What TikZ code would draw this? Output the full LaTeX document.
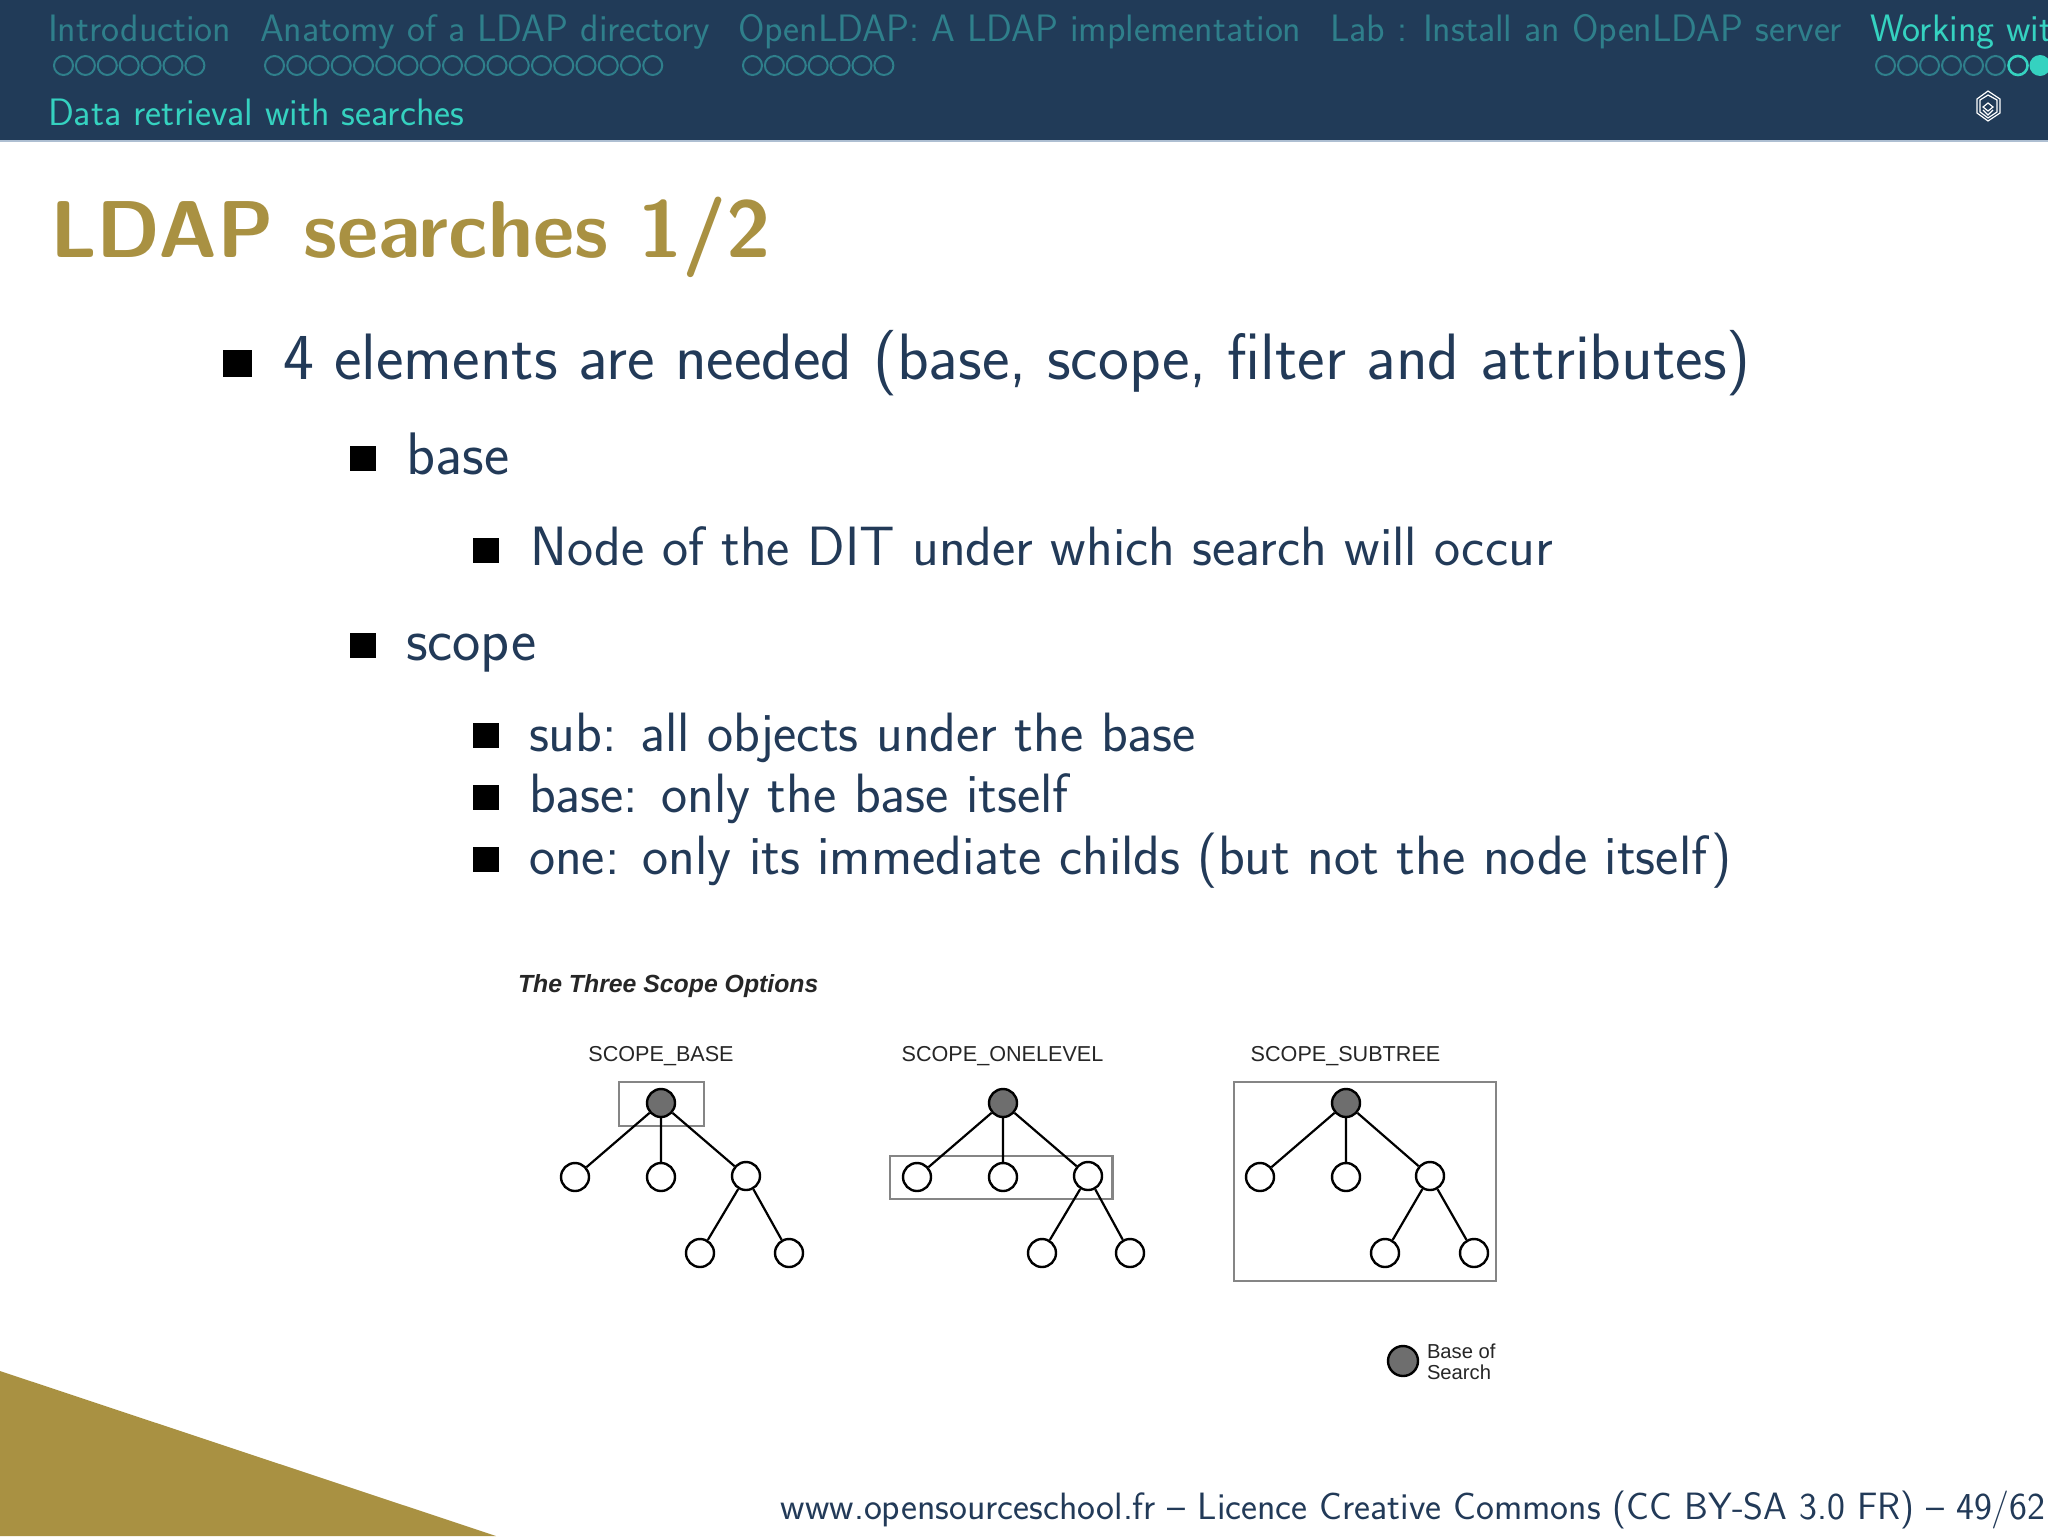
\documentclass[tikz,border=0pt]{standalone}
\usepackage{fontspec}
\newfontfamily\arialf{Liberation Sans}
\definecolor{barblue}{HTML}{213B58}
\definecolor{barline}{HTML}{AEBFD2}
\definecolor{tealhi}{HTML}{35D2C0}
\definecolor{tealdim}{HTML}{2F7F8B}
\definecolor{gold}{HTML}{A99142}
\definecolor{bodyblue}{HTML}{223A58}
\definecolor{scopegray}{HTML}{858585}
\definecolor{basegray}{HTML}{6E6E6E}
\newcommand{\fsz}[1]{\fontsize{#1}{#1}\selectfont}
\tikzset{
  x=0.5pt,y=-0.5pt,
  txt/.style={anchor=base west,inner sep=0pt,outer sep=0pt},
  nav/.style={txt,text=tealdim,font=\sffamily\fsz{19.1}},
  navhi/.style={txt,text=tealhi,font=\sffamily\fsz{19.1}},
  navdot/.style={draw=tealdim,line width=1pt},
  navdothi/.style={draw=tealhi,line width=1.3pt},
  lone/.style={txt,text=bodyblue,font=\sffamily\fsz{32.8}},
  ltwo/.style={txt,text=bodyblue,font=\sffamily\fsz{30}},
  lthree/.style={txt,text=bodyblue,font=\sffamily\fsz{27.7}},
  bul/.style={fill=black},
  treenode/.style={circle,draw=black,fill=white,line width=1.2pt,minimum size=14pt,inner sep=0pt},
  rootnode/.style={treenode,fill=basegray},
  edge/.style={draw=black,line width=1.1pt},
  scopebox/.style={draw=scopegray,line width=1.2pt},
  lab/.style={anchor=base,inner sep=0pt,text=black!85,font=\arialf\fsz{10.8}},
}
\begin{document}
\begin{tikzpicture}
\useasboundingbox (0,0) rectangle (2048,1536);
\fill[white] (0,0) rectangle (2048,1536);
% header
\fill[barblue] (0,0) rectangle (2048,139.5);
\fill[barline] (0,139.5) rectangle (2048,141.5);
\node[nav] (n1) at (48,41.5) {Introduction};
\node[nav] (n2) at (260,41.5) {Anatomy of a LDAP directory};
\node[nav] (n3) at (738,41.5) {OpenLDAP: A LDAP implementation};
\node[nav] (n4) at (1330,41.5) {Lab : Install an OpenLDAP server};
\node[navhi] (n5) at (1870,41.5) {Working wit};
\node[navhi] (sub) at (48,125.5) {Data retrieval with searches};
\foreach \i in {0,...,6} \draw[navdot] (63.5+\i*21.9,65.5) circle (9.5);
\foreach \i in {0,...,17} \draw[navdot] (274.5+\i*22.25,65.5) circle (9.5);
\foreach \i in {0,...,6} \draw[navdot] (752.5+\i*21.9,65.5) circle (9.5);
\foreach \i in {0,...,5} \draw[navdot] (1885.5+\i*22,65.5) circle (9.5);
\draw[navdothi] (2018,65.5) circle (9.5);
\fill[tealhi] (2040,65.5) circle (10.5);
% logo
\begin{scope}[white,line width=0.6pt]
\draw (1977,99) -- (1988,91) -- (2000,99) -- (2000,113) -- (1988,121) -- (1977,113) -- cycle;
\draw (1980,100) -- (1988,95) -- (1997,100) -- (1997,112) -- (1988,118) -- (1980,112) -- cycle;
\draw (1988,103) -- (1993,107) -- (1988,111) -- (1983,107) -- cycle;
\draw (1983,110) -- (1988,115) -- (1993,110);
\end{scope}
% title
\node[txt,text=gold,font=\sffamily\bfseries\fsz{40.3}] (title) at (50,257.5) {LDAP searches 1/2};
% body
\fill[bul] (223,350) rectangle (252,377);
\node[lone] (t1) at (283,379.5) {4 elements are needed (base, scope, filter and attributes)};
\fill[bul] (350,446) rectangle (376,471);
\node[ltwo] (t2) at (406.5,474.5) {base};
\fill[bul] (473,538) rectangle (499,563);
\node[lthree] (t3) at (530.5,565) {Node of the DIT under which search will occur};
\fill[bul] (350,633) rectangle (376,658);
\node[ltwo] (t4) at (406,660.5) {scope};
\fill[bul] (473,723) rectangle (499,748);
\node[lthree] (t5) at (529,751) {sub: all objects under the base};
\fill[bul] (473,785) rectangle (499,810);
\node[lthree] (t6) at (529,812) {base: only the base itself};
\fill[bul] (473,847) rectangle (499,872);
\node[lthree] (t7) at (529,874) {one: only its immediate childs (but not the node itself)};
% figure title
\node[txt,text=black!85,font=\arialf\bfseries\itshape\fsz{12.4}] (figt) at (518,992) {The Three Scope Options};
\node[lab] (la) at (661,1061) {SCOPE\_BASE};
\node[lab] (lb) at (1002.5,1061) {SCOPE\_ONELEVEL};
\node[lab] (lc) at (1345.5,1061) {SCOPE\_SUBTREE};
% boxes
\draw[scopebox] (619,1082) rectangle (704,1126);
\draw[scopebox] (890,1156) rectangle (1112.5,1199);
\draw[scopebox] (1234,1082) rectangle (1496,1281);
% tree A
\node[rootnode] (a0) at (661,1103) {};
\node[treenode] (a1) at (575,1177) {};
\node[treenode] (a2) at (661,1177) {};
\node[treenode] (a3) at (746,1176) {};
\node[treenode] (a4) at (700,1253) {};
\node[treenode] (a5) at (789,1253) {};
\draw[edge] (a0)--(a1) (a0)--(a2) (a0)--(a3) (a3)--(a4) (a3)--(a5);
% tree B
\node[rootnode] (b0) at (1003,1103) {};
\node[treenode] (b1) at (917,1177) {};
\node[treenode] (b2) at (1003,1177) {};
\node[treenode] (b3) at (1088,1176) {};
\node[treenode] (b4) at (1042,1253) {};
\node[treenode] (b5) at (1130,1253) {};
\draw[edge] (b0)--(b1) (b0)--(b2) (b0)--(b3) (b3)--(b4) (b3)--(b5);
% tree C
\node[rootnode] (c0) at (1346,1103) {};
\node[treenode] (c1) at (1260,1177) {};
\node[treenode] (c2) at (1346,1177) {};
\node[treenode] (c3) at (1430,1176) {};
\node[treenode] (c4) at (1385,1253) {};
\node[treenode] (c5) at (1474,1253) {};
\draw[edge] (c0)--(c1) (c0)--(c2) (c0)--(c3) (c3)--(c4) (c3)--(c5);
% legend
\node[rootnode,minimum size=15pt] (leg) at (1403,1361) {};
\node[txt,text=black!85,font=\arialf\fsz{10.1}] (lg1) at (1427,1358) {Base of};
\node[txt,text=black!85,font=\arialf\fsz{10.1}] (lg2) at (1427,1379) {Search};
% corner
\fill[gold] (0,1371) -- (496,1536) -- (0,1536) -- cycle;
% footer
\node[anchor=base east,inner sep=0pt,text=bodyblue,font=\sffamily\fsz{19.03}] (foot) at (2046,1519.5) {www.opensourceschool.fr -- Licence Creative Commons (CC BY-SA 3.0 FR) -- 49/62};
\end{tikzpicture}
\end{document}
